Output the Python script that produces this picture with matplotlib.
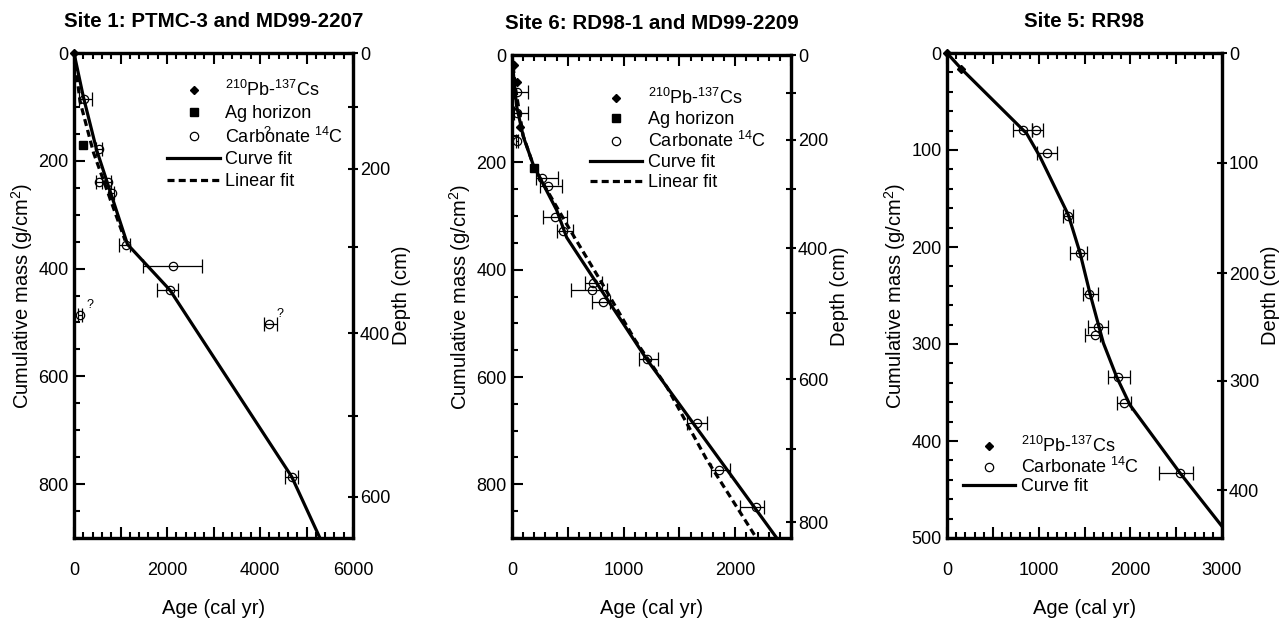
# plot.py
# Age-mass models for three sites, cumulative mass vs calibrated age

import numpy as np
import matplotlib.pyplot as plt
from matplotlib.ticker import MultipleLocator, FixedLocator, FuncFormatter
from matplotlib.lines import Line2D

plt.rcParams['font.family'] = ['Liberation Sans', 'DejaVu Sans']
plt.rcParams['mathtext.fontset'] = 'custom'
plt.rcParams['mathtext.rm'] = 'Liberation Sans'
plt.rcParams['mathtext.it'] = 'Liberation Sans:italic'
plt.rcParams['mathtext.bf'] = 'Liberation Sans:bold'
plt.rcParams['font.size'] = 13

# ---- Site 1: PTMC-3 and MD99-2207 ----
s1_pb_age = [0]
s1_pb_mass = [0]
s1_ag_age = [200]
s1_ag_mass = [171]
s1_c14_age = [220, 545, 545, 738, 810, 1118, 2136, 2064, 129, 4199, 4680]
s1_c14_mass = [86, 179, 239, 239, 259, 357, 395, 440, 486, 503, 786]
s1_c14_lo = [110, 65, 65, 65, 60, 160, 646, 273, 50, 114, 143]
s1_c14_hi = [160, 65, 65, 65, 60, 90, 616, 179, 50, 158, 143]
s1_query_idx = [8, 9]          # points flagged with "?"
s1_curve_age = [0, 200, 487, 1150, 2064, 4680, 5289]
s1_curve_mass = [0, 81, 180, 355, 440, 786, 900]
s1_lin_age = [0, 130, 420, 1100]
s1_lin_mass = [0, 90, 185, 348]
s1_depth = [0, 100, 200, 300, 400, 500, 600]
s1_depth_mass = [0, 100, 215, 360, 520, 673, 823]

# ---- Site 6: RD98-1 and MD99-2209 ----
s6_pb_age = [18, 42, 75]
s6_pb_mass = [19, 50, 134]
s6_ag_age = [200]
s6_ag_mass = [211]
s6_c14_age = [48, 48, 48, 273, 323, 383, 457, 729, 714, 819, 1207, 1661, 1858, 2184]
s6_c14_mass = [69, 108, 161, 230, 244, 301, 328, 424, 437, 460, 567, 685, 774, 843]
s6_c14_lo = [26, 26, 8, 60, 72, 108, 57, 75, 185, 105, 66, 96, 75, 141]
s6_c14_hi = [98, 98, 8, 135, 122, 107, 92, 75, 135, 59, 104, 84, 96, 74]
s6_curve_age = [0, 15, 42, 101, 191, 400, 490, 1207, 2372]
s6_curve_mass = [0, 40, 96, 152, 205, 289, 340, 567, 900]
s6_lin_age = [0, 30, 100, 200, 520, 789, 1102, 1386, 1745, 2190]
s6_lin_mass = [0, 60, 150, 211, 326, 419, 531, 618, 754, 900]
s6_depth = [0, 100, 200, 300, 400, 500, 600, 700, 800]
s6_depth_mass = [0, 71, 158, 250, 360, 481, 604, 734, 871]

# ---- Site 5: RR98 ----
s5_pb_age = [0, 153]
s5_pb_mass = [0, 16]
s5_c14_age = [833, 971, 1095, 1324, 1451, 1553, 1651, 1615, 1869, 1931, 2540]
s5_c14_mass = [79, 79, 103, 168, 206, 248, 282, 291, 334, 361, 433]
s5_c14_lo = [109, 47, 117, 55, 109, 66, 109, 109, 109, 80, 225]
s5_c14_hi = [91, 80, 102, 54, 80, 98, 109, 54, 128, 73, 140]
s5_curve_age = [0, 153, 869, 1015, 1324, 1451, 1560, 1706, 1851, 1997, 2542, 3000]
s5_curve_mass = [0, 16, 83, 107, 167, 206, 248, 299, 334, 363, 433, 488]
s5_depth = [0, 100, 200, 300, 400]
s5_depth_mass = [0, 113, 227, 338, 451]

LW = 2.3
DASH = (0, (2.2, 1.3))
TICK_FS = 13
LABEL_FS = 14.5


def style_axes(ax, xmax, ymax, x_major, x_label_step, x_minor, y_major, y_minor):
    ax.set_xlim(0, xmax)
    ax.set_ylim(ymax, 0)
    ax.xaxis.set_major_locator(MultipleLocator(x_major))
    ax.xaxis.set_minor_locator(MultipleLocator(x_minor))
    ax.xaxis.set_major_formatter(FuncFormatter(
        lambda v, p: f'{int(round(v))}' if round(v) % x_label_step == 0 else ''))
    ax.yaxis.set_major_locator(MultipleLocator(y_major))
    ax.yaxis.set_minor_locator(MultipleLocator(y_minor))
    ax.tick_params(axis='both', which='both', direction='in', top=True, right=False,
                   width=1.5, labelsize=TICK_FS)
    ax.tick_params(axis='both', which='major', length=8)
    ax.tick_params(axis='both', which='minor', length=4.5)
    ax.tick_params(axis='x', pad=17)
    ax.tick_params(axis='y', pad=4)
    for sp in ax.spines.values():
        sp.set_linewidth(LW)
    ax.set_xlabel('Age (cal yr)', fontsize=LABEL_FS, labelpad=15)
    ax.set_ylabel('Cumulative mass (g/cm$^2$)', fontsize=LABEL_FS, labelpad=2)


def add_depth_axis(ax, ymax, depth, depth_mass, label_step):
    ax2 = ax.twinx()
    ax2.set_ylim(ymax, 0)
    ax2.yaxis.set_major_locator(FixedLocator(depth_mass))
    labels = [str(d) if d % label_step == 0 else '' for d in depth]
    ax2.set_yticklabels(labels)
    ax2.tick_params(axis='y', direction='inout', length=7, width=1.5, pad=1.5,
                    labelsize=TICK_FS)
    for sp in ax2.spines.values():
        sp.set_linewidth(LW)
    ax2.set_ylabel('Depth (cm)', fontsize=LABEL_FS, labelpad=1)
    return ax2


def plot_c14(ax, age, mass, lo, hi):
    ax.errorbar(age, mass, xerr=[lo, hi], fmt='o', ms=6, mfc='none', mec='k', mew=0.9,
                ecolor='k', elinewidth=0.9, capsize=5, capthick=0.9, zorder=3)


fig = plt.figure(figsize=(12.83, 6.2), dpi=100)

# Site 1
ax1 = fig.add_axes([74 / 1283, 82 / 620, 279 / 1283, 485 / 620])
ax1.plot(s1_curve_age, s1_curve_mass, color='k', lw=LW, zorder=2)
ax1.plot(s1_lin_age, s1_lin_mass, color='k', lw=LW, ls=DASH, zorder=2)
plot_c14(ax1, s1_c14_age, s1_c14_mass, s1_c14_lo, s1_c14_hi)
for i in s1_query_idx:
    ax1.annotate('?', (s1_c14_age[i], s1_c14_mass[i]), xytext=(5, 5),
                 textcoords='offset points', fontsize=9)
ax1.text(4143, 146, '?', fontsize=9, ha='center', va='center')
ax1.plot(s1_ag_age, s1_ag_mass, 's', color='k', ms=6, zorder=4, clip_on=False)
ax1.plot(s1_pb_age, s1_pb_mass, 'D', color='k', ms=4.5, zorder=5, clip_on=False)
style_axes(ax1, 6000, 900, 1000, 2000, 200, 200, 50)
add_depth_axis(ax1, 900, s1_depth, s1_depth_mass, 200)
ax1.set_title('Site 1: PTMC-3 and MD99-2207', fontsize=14.8, fontweight='bold', pad=19)

# Site 6
ax6 = fig.add_axes([512 / 1283, 82 / 620, 279 / 1283, 483 / 620])
ax6.plot(s6_curve_age, s6_curve_mass, color='k', lw=LW, zorder=2)
ax6.plot(s6_lin_age, s6_lin_mass, color='k', lw=LW, ls=DASH, zorder=2)
plot_c14(ax6, s6_c14_age, s6_c14_mass, s6_c14_lo, s6_c14_hi)
ax6.plot(s6_ag_age, s6_ag_mass, 's', color='k', ms=6, zorder=4)
ax6.plot(s6_pb_age, s6_pb_mass, 'D', color='k', ms=4.5, zorder=5)
style_axes(ax6, 2500, 900, 500, 1000, 100, 200, 50)
add_depth_axis(ax6, 900, s6_depth, s6_depth_mass, 200)
ax6.set_title('Site 6: RD98-1 and MD99-2209', fontsize=14.8, fontweight='bold', pad=19)

# Site 5
ax5 = fig.add_axes([947 / 1283, 82 / 620, 275 / 1283, 485 / 620])
ax5.plot(s5_curve_age, s5_curve_mass, color='k', lw=LW, zorder=2)
plot_c14(ax5, s5_c14_age, s5_c14_mass, s5_c14_lo, s5_c14_hi)
ax5.plot(s5_pb_age, s5_pb_mass, 'D', color='k', ms=4.5, zorder=5, clip_on=False)
style_axes(ax5, 3000, 500, 500, 1000, 100, 100, 20)
add_depth_axis(ax5, 500, s5_depth, s5_depth_mass, 100)
ax5.set_title('Site 5: RR98', fontsize=14.8, fontweight='bold', pad=19)

# legends
h_pb = Line2D([], [], ls='none', marker='D', color='k', ms=4.5)
h_ag = Line2D([], [], ls='none', marker='s', color='k', ms=6)
h_c14 = Line2D([], [], ls='none', marker='o', mfc='none', mec='k', mew=0.9, ms=6)
h_curve = Line2D([], [], color='k', lw=LW)
h_lin = Line2D([], [], color='k', lw=LW, ls=DASH)
lab_pb = '$^{210}$Pb-$^{137}$Cs'
lab_c14 = 'Carbonate $^{14}$C'

leg_kw = dict(frameon=False, fontsize=13, handlelength=2.9, handletextpad=0.3,
              borderpad=0, borderaxespad=0, labelspacing=0.26, loc='upper left')
ax1.legend([h_pb, h_ag, h_c14, h_curve, h_lin],
           [lab_pb, 'Ag horizon', lab_c14, 'Curve fit', 'Linear fit'],
           bbox_to_anchor=(0.335, 0.944), **leg_kw).set_zorder(10)
ax6.legend([h_pb, h_ag, h_c14, h_curve, h_lin],
           [lab_pb, 'Ag horizon', lab_c14, 'Curve fit', 'Linear fit'],
           bbox_to_anchor=(0.28, 0.932), **dict(leg_kw, labelspacing=0.17)).set_zorder(10)
ax5.legend([h_pb, h_c14, h_curve],
           [lab_pb, lab_c14, 'Curve fit'],
           bbox_to_anchor=(0.058, 0.21), **dict(leg_kw, labelspacing=0.05)).set_zorder(10)

fig.savefig('out.png', dpi=100)
